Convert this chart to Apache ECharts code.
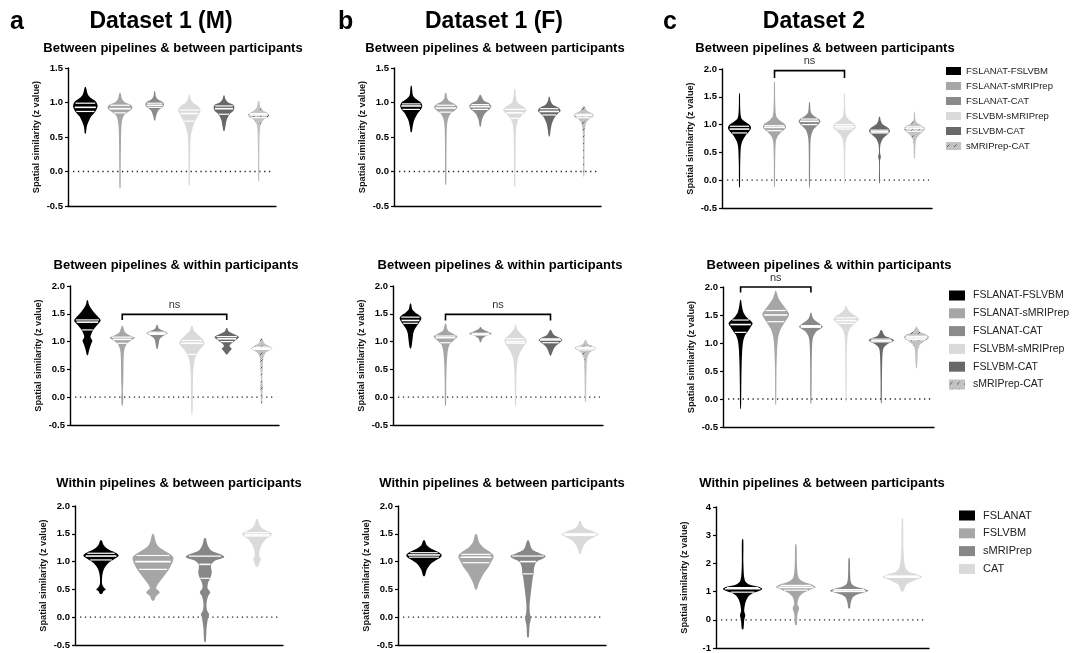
<!DOCTYPE html>
<html>
<head>
<meta charset="utf-8">
<script src="https://cdn.jsdelivr.net/npm/echarts@6/dist/echarts.min.js"></script>
<style>html,body{margin:0;padding:0;background:#fff}#chart{width:1080px;height:653px}</style>
</head>
<body>
<div id="chart"></div>
<script>
// ---------- DATA ----------
const pairNames = ['FSLANAT-FSLVBM','FSLANAT-sMRIPrep','FSLANAT-CAT','FSLVBM-sMRIPrep','FSLVBM-CAT','sMRIPrep-CAT'];
const pipeNames = ['FSLANAT','FSLVBM','sMRIPrep','CAT'];
const datasetTitles = ['Dataset 1 (M)','Dataset 1 (F)','Dataset 2'];
const panelLetters = ['a','b','c'];
const rowTitles = ['Between pipelines & between participants','Between pipelines & within participants','Within pipelines & between participants'];
const yAxisName = 'Spatial similarity (z value)';
// y axis ranges [min, max, interval]
const yRange1 = [-0.5, 1.5, 0.5];
const yRange2 = [-0.5, 2.0, 0.5];
const yRange3 = [-1, 4, 1];

// violin profiles: [value, half-width (fraction of category band)]
const shapesA1 = [
 [[0.55,0.015],[0.65,0.04],[0.72,0.09],[0.8,0.17],[0.87,0.29],[0.95,0.354],[1.02,0.29],[1.07,0.15],[1.12,0.07],[1.22,0.015]],
 [[-0.24,0.015],[0.0,0.02],[0.5,0.03],[0.7,0.05],[0.8,0.1],[0.85,0.2],[0.9,0.33],[0.93,0.36],[0.97,0.3],[1.0,0.15],[1.05,0.06],[1.14,0.015]],
 [[0.74,0.015],[0.8,0.04],[0.88,0.1],[0.93,0.22],[0.97,0.27],[1.01,0.22],[1.05,0.08],[1.1,0.03],[1.16,0.015]],
 [[-0.2,0.015],[0.2,0.025],[0.5,0.04],[0.6,0.08],[0.7,0.14],[0.78,0.22],[0.85,0.3],[0.9,0.32],[0.95,0.25],[1.0,0.1],[1.05,0.04],[1.11,0.015]],
 [[0.59,0.015],[0.65,0.04],[0.75,0.08],[0.83,0.16],[0.88,0.27],[0.93,0.3],[0.97,0.26],[1.0,0.12],[1.05,0.04],[1.1,0.015]],
 [[-0.14,0.015],[0.3,0.02],[0.6,0.035],[0.7,0.07],[0.76,0.17],[0.8,0.3],[0.84,0.28],[0.88,0.14],[0.93,0.05],[1.02,0.015]]
];
const quartA1 = [[0.87,0.93,0.99],[0.85,0.91,0.96],[0.93,0.96,0.99],[0.73,0.84,0.89],[0.83,0.91,0.95],[0.78,0.82,0.84]];

const shapesB1 = [
 [[0.57,0.015],[0.65,0.04],[0.75,0.09],[0.85,0.2],[0.9,0.28],[0.95,0.32],[1.0,0.28],[1.05,0.14],[1.1,0.05],[1.24,0.015]],
 [[-0.19,0.015],[0.2,0.02],[0.6,0.03],[0.75,0.06],[0.84,0.15],[0.9,0.3],[0.93,0.34],[0.97,0.28],[1.02,0.1],[1.07,0.04],[1.14,0.015]],
 [[0.65,0.015],[0.75,0.05],[0.83,0.12],[0.88,0.22],[0.94,0.32],[0.99,0.26],[1.03,0.1],[1.11,0.015]],
 [[-0.22,0.015],[0.3,0.025],[0.6,0.04],[0.72,0.08],[0.8,0.18],[0.86,0.3],[0.89,0.34],[0.94,0.26],[1.0,0.08],[1.1,0.03],[1.19,0.015]],
 [[0.51,0.015],[0.6,0.04],[0.7,0.08],[0.8,0.18],[0.85,0.28],[0.88,0.33],[0.92,0.28],[0.97,0.1],[1.02,0.04],[1.08,0.015]],
 [[-0.07,0.015],[0.3,0.02],[0.6,0.035],[0.7,0.07],[0.76,0.16],[0.8,0.29],[0.84,0.25],[0.88,0.1],[0.95,0.015]]
];
const quartB1 = [[0.9,0.95,0.98],[0.86,0.92,0.96],[0.9,0.94,0.97],[0.77,0.85,0.9],[0.82,0.87,0.91],[0.78,0.81,0.83]];

const shapesC1 = [
 [[-0.13,0.012],[0.3,0.02],[0.6,0.04],[0.7,0.08],[0.8,0.17],[0.88,0.28],[0.94,0.33],[1.0,0.28],[1.06,0.14],[1.12,0.05],[1.3,0.02],[1.56,0.012]],
 [[-0.12,0.012],[0.4,0.02],[0.7,0.04],[0.8,0.1],[0.88,0.22],[0.95,0.33],[1.02,0.28],[1.08,0.14],[1.15,0.05],[1.4,0.02],[1.77,0.012]],
 [[-0.13,0.012],[0.4,0.02],[0.75,0.035],[0.9,0.1],[0.98,0.22],[1.05,0.31],[1.1,0.27],[1.16,0.12],[1.22,0.04],[1.4,0.012]],
 [[-0.06,0.012],[0.4,0.02],[0.7,0.04],[0.8,0.1],[0.88,0.22],[0.95,0.32],[1.02,0.28],[1.08,0.14],[1.15,0.05],[1.3,0.02],[1.56,0.012]],
 [[-0.05,0.012],[0.35,0.015],[0.42,0.04],[0.5,0.015],[0.65,0.03],[0.75,0.1],[0.82,0.22],[0.88,0.3],[0.94,0.25],[1.0,0.1],[1.06,0.04],[1.14,0.012]],
 [[0.39,0.012],[0.5,0.02],[0.65,0.03],[0.75,0.06],[0.83,0.16],[0.9,0.28],[0.93,0.3],[0.97,0.25],[1.02,0.1],[1.08,0.03],[1.23,0.012]]
];
const quartC1 = [[0.85,0.92,0.97],[0.89,0.95,0.98],[1.0,1.06,1.1],[0.92,0.96,1.0],[0.85,0.87,0.9],[0.88,0.93,0.96]];

const shapesA2 = [
 [[0.76,0.015],[0.85,0.05],[0.95,0.1],[1.02,0.14],[1.08,0.09],[1.15,0.12],[1.22,0.18],[1.3,0.28],[1.38,0.38],[1.45,0.3],[1.52,0.2],[1.6,0.1],[1.67,0.04],[1.74,0.015]],
 [[-0.15,0.015],[0.0,0.03],[0.1,0.02],[0.3,0.03],[0.5,0.035],[0.7,0.04],[0.85,0.06],[0.95,0.12],[1.02,0.25],[1.07,0.36],[1.12,0.2],[1.17,0.08],[1.28,0.015]],
 [[0.87,0.015],[0.95,0.04],[1.05,0.08],[1.1,0.18],[1.15,0.3],[1.19,0.2],[1.23,0.06],[1.3,0.015]],
 [[-0.31,0.015],[0.0,0.025],[0.4,0.035],[0.6,0.06],[0.75,0.12],[0.85,0.22],[0.92,0.32],[0.98,0.36],[1.05,0.3],[1.12,0.18],[1.2,0.06],[1.28,0.015]],
 [[0.77,0.015],[0.82,0.08],[0.87,0.14],[0.92,0.08],[0.97,0.14],[1.03,0.26],[1.08,0.35],[1.13,0.22],[1.18,0.06],[1.24,0.015]],
 [[-0.12,0.015],[0.1,0.025],[0.2,0.04],[0.3,0.02],[0.5,0.03],[0.7,0.05],[0.8,0.12],[0.85,0.25],[0.88,0.31],[0.92,0.22],[0.97,0.08],[1.06,0.015]]
];
const quartA2 = [[1.21,1.35,1.39],[0.97,1.04,1.08],[1.13,1.15,1.17],[0.77,0.97,1.02],[1.0,1.05,1.09],[0.86,0.88,0.9]];

const shapesB2 = [
 [[0.88,0.015],[0.95,0.04],[1.05,0.06],[1.15,0.08],[1.22,0.12],[1.3,0.2],[1.36,0.27],[1.42,0.31],[1.47,0.26],[1.52,0.14],[1.58,0.05],[1.68,0.015]],
 [[-0.15,0.015],[0.2,0.02],[0.5,0.03],[0.7,0.045],[0.85,0.07],[0.95,0.12],[1.03,0.25],[1.09,0.34],[1.14,0.22],[1.2,0.07],[1.32,0.015]],
 [[0.99,0.015],[1.05,0.05],[1.1,0.16],[1.14,0.32],[1.18,0.2],[1.22,0.06],[1.26,0.015]],
 [[-0.15,0.015],[0.2,0.02],[0.5,0.035],[0.7,0.07],[0.8,0.13],[0.9,0.22],[0.97,0.3],[1.02,0.32],[1.08,0.26],[1.15,0.14],[1.22,0.05],[1.3,0.015]],
 [[0.75,0.015],[0.82,0.06],[0.88,0.1],[0.94,0.18],[0.99,0.28],[1.03,0.34],[1.07,0.26],[1.12,0.1],[1.21,0.015]],
 [[-0.08,0.015],[0.2,0.02],[0.5,0.03],[0.7,0.05],[0.8,0.12],[0.85,0.24],[0.88,0.31],[0.92,0.2],[0.96,0.07],[1.03,0.015]]
];
const quartB2 = [[1.33,1.38,1.44],[0.98,1.07,1.1],[1.12,1.13,1.15],[0.97,1.0,1.05],[0.98,1.03,1.05],[0.85,0.88,0.9]];

const shapesC2 = [
 [[-0.17,0.012],[0.2,0.02],[0.6,0.03],[0.9,0.05],[1.05,0.08],[1.15,0.14],[1.22,0.22],[1.3,0.3],[1.35,0.34],[1.4,0.28],[1.47,0.16],[1.55,0.08],[1.65,0.04],[1.77,0.012]],
 [[-0.1,0.012],[0.5,0.02],[0.9,0.04],[1.1,0.07],[1.25,0.14],[1.35,0.24],[1.45,0.34],[1.52,0.38],[1.6,0.3],[1.7,0.18],[1.8,0.08],[1.93,0.012]],
 [[-0.08,0.012],[0.5,0.02],[0.9,0.03],[1.1,0.06],[1.2,0.15],[1.25,0.26],[1.29,0.34],[1.34,0.26],[1.4,0.12],[1.46,0.05],[1.54,0.012]],
 [[-0.05,0.012],[0.5,0.02],[0.9,0.025],[1.1,0.04],[1.25,0.1],[1.35,0.25],[1.42,0.36],[1.48,0.28],[1.54,0.14],[1.6,0.05],[1.66,0.012]],
 [[-0.07,0.012],[0.4,0.02],[0.7,0.03],[0.9,0.06],[0.98,0.18],[1.02,0.3],[1.05,0.36],[1.09,0.26],[1.13,0.1],[1.23,0.012]],
 [[0.55,0.012],[0.7,0.03],[0.9,0.05],[0.98,0.12],[1.05,0.26],[1.1,0.36],[1.15,0.28],[1.2,0.1],[1.29,0.012]]
];
const quartC2 = [[1.19,1.33,1.41],[1.38,1.5,1.58],[1.28,1.3,1.31],[1.35,1.4,1.45],[1.02,1.04,1.07],[1.06,1.09,1.12]];

const shapesA3 = [
 [[0.42,0.02],[0.47,0.05],[0.5,0.09],[0.54,0.05],[0.6,0.02],[0.75,0.025],[0.85,0.05],[0.93,0.1],[1.0,0.18],[1.06,0.28],[1.11,0.34],[1.16,0.28],[1.22,0.14],[1.3,0.05],[1.38,0.015]],
 [[0.3,0.02],[0.38,0.06],[0.45,0.13],[0.52,0.06],[0.6,0.1],[0.7,0.18],[0.8,0.26],[0.9,0.33],[1.0,0.38],[1.08,0.39],[1.15,0.3],[1.22,0.18],[1.3,0.08],[1.4,0.04],[1.49,0.015]],
 [[-0.44,0.015],[-0.2,0.03],[0.0,0.06],[0.05,0.08],[0.12,0.04],[0.25,0.03],[0.38,0.06],[0.45,0.1],[0.52,0.05],[0.62,0.06],[0.7,0.1],[0.8,0.13],[0.88,0.12],[0.95,0.12],[1.02,0.2],[1.08,0.37],[1.13,0.3],[1.2,0.12],[1.3,0.05],[1.42,0.015]],
 [[0.91,0.02],[0.98,0.05],[1.05,0.07],[1.12,0.04],[1.2,0.05],[1.3,0.09],[1.4,0.17],[1.46,0.26],[1.5,0.29],[1.54,0.22],[1.6,0.1],[1.68,0.04],[1.76,0.015]]
];
const quartA3 = [[1.03,1.1,1.15],[0.86,1.0,1.11],[0.7,0.95,1.1],[1.46,1.48,1.52]];

const shapesB3 = [
 [[0.74,0.015],[0.85,0.05],[0.95,0.12],[1.02,0.22],[1.08,0.32],[1.12,0.34],[1.17,0.28],[1.23,0.14],[1.3,0.05],[1.38,0.015]],
 [[0.5,0.015],[0.6,0.05],[0.7,0.1],[0.8,0.16],[0.9,0.24],[1.0,0.3],[1.1,0.34],[1.18,0.26],[1.26,0.14],[1.35,0.06],[1.49,0.015]],
 [[-0.36,0.015],[-0.15,0.03],[0.0,0.06],[0.05,0.04],[0.2,0.03],[0.4,0.05],[0.55,0.07],[0.7,0.09],[0.8,0.11],[0.9,0.12],[1.0,0.17],[1.05,0.28],[1.1,0.34],[1.15,0.22],[1.22,0.08],[1.38,0.015]],
 [[1.14,0.015],[1.22,0.04],[1.3,0.08],[1.38,0.15],[1.44,0.27],[1.49,0.35],[1.54,0.26],[1.6,0.1],[1.66,0.04],[1.73,0.015]]
];
const quartB3 = [[1.08,1.12,1.16],[0.98,1.08,1.13],[0.78,1.0,1.1],[1.47,1.49,1.5]];

const shapesC3 = [
 [[-0.33,0.015],[0.0,0.03],[0.15,0.05],[0.3,0.03],[0.5,0.04],[0.7,0.07],[0.85,0.12],[0.95,0.2],[1.05,0.34],[1.1,0.37],[1.17,0.3],[1.25,0.12],[1.4,0.04],[2.0,0.015],[2.85,0.012]],
 [[-0.18,0.015],[0.2,0.03],[0.42,0.06],[0.55,0.03],[0.8,0.06],[0.95,0.14],[1.05,0.25],[1.15,0.37],[1.25,0.3],[1.35,0.14],[1.5,0.05],[2.0,0.02],[2.67,0.012]],
 [[0.41,0.015],[0.6,0.03],[0.8,0.07],[0.9,0.15],[0.97,0.28],[1.03,0.36],[1.1,0.28],[1.18,0.12],[1.3,0.04],[1.6,0.02],[2.18,0.012]],
 [[1.0,0.015],[1.1,0.04],[1.25,0.08],[1.38,0.2],[1.45,0.3],[1.52,0.37],[1.6,0.3],[1.7,0.12],[1.9,0.05],[2.5,0.02],[3.59,0.012]]
];
const quartC3 = [[0.98,1.1,1.14],[1.05,1.15,1.22],[1.0,1.02,1.07],[1.5,1.53,1.55]];

// significance brackets: [panel, fromCat, toCat, top value, leg bottom value]
const nsBrackets = [[2,1,3,1.97,1.84],[3,1,4,1.49,1.39],[4,1,4,1.49,1.38],[5,0,2,2.0,1.9]];

// ---------- STYLE / LAYOUT ----------
const FONT = '"Liberation Sans", Arial, sans-serif';
function makeHatch(){
  const c = document.createElement('canvas'); c.width = 7; c.height = 7;
  const g = c.getContext('2d');
  g.fillStyle = '#c2c2c2'; g.fillRect(0,0,7,7);
  g.strokeStyle = '#5a5a5a'; g.lineWidth = 1;
  g.beginPath(); g.moveTo(1,5); g.lineTo(3.5,2.5); g.stroke();
  return {image: c, repeat: 'repeat'};
}
const HATCH = makeHatch();
const pairColors = ['#000000','#a6a6a6','#8a8a8a','#dadada','#686868',HATCH];
const pipeColors = ['#000000','#a6a6a6','#878787','#dadada'];

const panels = [
 {grid:{left:68,top:68,width:208,height:138}, y:yRange1, shapes:shapesA1, q:quartA1, names:pairNames, colors:pairColors},
 {grid:{left:394,top:68,width:207,height:138}, y:yRange1, shapes:shapesB1, q:quartB1, names:pairNames, colors:pairColors},
 {grid:{left:722,top:69,width:210,height:139}, y:yRange2, shapes:shapesC1, q:quartC1, names:pairNames, colors:pairColors},
 {grid:{left:70,top:286,width:209,height:139}, y:yRange2, shapes:shapesA2, q:quartA2, names:pairNames, colors:pairColors},
 {grid:{left:393,top:286,width:210,height:139}, y:yRange2, shapes:shapesB2, q:quartB2, names:pairNames, colors:pairColors},
 {grid:{left:723,top:287,width:211,height:140}, y:yRange2, shapes:shapesC2, q:quartC2, names:pairNames, colors:pairColors},
 {grid:{left:75,top:506,width:208,height:139}, y:yRange2, shapes:shapesA3, q:quartA3, names:pipeNames, colors:pipeColors},
 {grid:{left:398,top:506,width:208,height:139}, y:yRange2, shapes:shapesB3, q:quartB3, names:pipeNames, colors:pipeColors},
 {grid:{left:716,top:507,width:213,height:141}, y:yRange3, shapes:shapesC3, q:quartC3, names:pipeNames, colors:pipeColors}
];

function interpW(shape, v){
  for (let i=0;i<shape.length-1;i++){
    const a=shape[i], b=shape[i+1];
    if (v>=a[0] && v<=b[0]) return a[1]+(b[1]-a[1])*(v-a[0])/(b[0]-a[0]);
  }
  return 0;
}

const grids=[], xAxes=[], yAxes=[], series=[];
panels.forEach((p, pi) => {
  grids.push(Object.assign({containLabel:false, outerBoundsMode:'none'}, p.grid));
  xAxes.push({type:'category', gridIndex:pi, data:p.names, boundaryGap:true,
    axisLine:{onZero:false, lineStyle:{color:'#000',width:1.4}}, axisTick:{alignWithLabel:true,length:4,lineStyle:{color:'#000',width:1.2}},
    axisLabel:{show:false}, splitLine:{show:false}});
  const isInt = p.y[2] >= 1;
  yAxes.push({type:'value', gridIndex:pi, min:p.y[0], max:p.y[1], interval:p.y[2],
    name:yAxisName, nameLocation:'middle', nameGap:27,
    nameTextStyle:{fontFamily:FONT,fontWeight:'bold',fontSize:9.2,color:'#111'},
    axisLine:{show:true,onZero:false,lineStyle:{color:'#000',width:1.4}}, axisTick:{show:true,length:3,lineStyle:{color:'#000',width:1.2}},
    axisLabel:{margin:5,fontFamily:FONT,fontWeight:'bold',fontSize:9.5,color:'#000',formatter:v=>isInt?String(v):v.toFixed(1)},
    splitLine:{show:false}});
  // dotted zero line
  series.push({type:'custom', name:'zero'+pi, xAxisIndex:pi, yAxisIndex:pi, data:[[0,0]], silent:true, z:1,
    renderItem:(params, api)=>{
      const cs = params.coordSys; const y = api.coord([0,0])[1];
      return {type:'line', shape:{x1:cs.x+5,y1:y,x2:cs.x+cs.width-3,y2:y}, style:{stroke:'#222',lineWidth:1.3,lineDash:[1.3,3.6],lineCap:'butt'}};
    }});
  p.shapes.forEach((shape, ci) => {
    const color = p.colors[ci]; const quart = p.q[ci];
    series.push({type:'custom', name:p.names[ci], xAxisIndex:pi, yAxisIndex:pi, data:[[ci, quart[1]]], clip:false, z:2,
      itemStyle:{color:color},
      renderItem:(params, api)=>{
        const cx = api.coord([ci,0])[0];
        const band = api.size([1,0])[0];
        const right = shape.map(s=>[cx+s[1]*band, api.coord([ci,s[0]])[1]]);
        const left = shape.slice().reverse().map(s=>[cx-s[1]*band, api.coord([ci,s[0]])[1]]);
        const children = [{type:'polygon', shape:{points:right.concat(left), smooth:0.3}, style:{fill:color}}];
        quart.forEach((qv,k)=>{
          const hw = interpW(shape,qv)*band*0.9; const y = api.coord([ci,qv])[1];
          children.push({type:'line', shape:{x1:cx-hw,y1:y,x2:cx+hw,y2:y}, style:{stroke:'#fff',lineWidth:k===1?1.6:1.2}});
        });
        return {type:'group', children};
      }});
  });
});
nsBrackets.forEach((b, bi) => {
  const pi = b[0];
  series.push({type:'custom', name:'ns'+bi, xAxisIndex:pi, yAxisIndex:pi, data:[[b[1],b[3]]], clip:false, silent:true, z:3,
    renderItem:(params, api)=>{
      const p1 = api.coord([b[1], b[3]]), p2 = api.coord([b[2], b[3]]);
      const l1 = api.coord([b[1], b[4]]), l2 = api.coord([b[2], b[4]]);
      return {type:'group', children:[
        {type:'polyline', shape:{points:[l1,p1,p2,l2]}, style:{stroke:'#000',lineWidth:1.6,fill:null}},
        {type:'text', x:(p1[0]+p2[0])/2, y:p1[1]-4, style:{text:'ns', fill:'#333', font:'11px '+FONT, textAlign:'center', textVerticalAlign:'bottom', align:'center', verticalAlign:'bottom'}}
      ]};
    }});
});

// text headings
const graphics = [];
const letterX = [10, 338, 663];
const datasetX = [161, 494, 814];
const subX = [[173,495,825],[176,500,829],[179,502,822]];
const subY = [48, 265, 483];
function txt(x, y, s, font, align){
  return {type:'text', x:x, y:y, silent:true, style:{text:s, fill:'#000', font:font, textAlign:align, textVerticalAlign:'middle', align:align, verticalAlign:'middle'}};
}
for (let c=0;c<3;c++){
  graphics.push(txt(letterX[c], 22, panelLetters[c], 'bold 25px '+FONT, 'left'));
  graphics.push(txt(datasetX[c], 22, datasetTitles[c], 'bold 23px '+FONT, 'center'));
  for (let r=0;r<3;r++) graphics.push(txt(subX[r][c], subY[r], rowTitles[r], 'bold 13px '+FONT, 'center'));
}

const legendBase = {orient:'vertical', icon:'rect', selectedMode:false, padding:0};
const option = {
  animation:false,
  backgroundColor:'#fff',
  grid:grids, xAxis:xAxes, yAxis:yAxes, series:series,
  graphic:graphics,
  legend:[
    Object.assign({}, legendBase, {data:pairNames, left:946, top:66, itemWidth:15, itemHeight:8, itemGap:5, textStyle:{fontFamily:FONT,fontSize:9.5,color:'#222'}}),
    Object.assign({}, legendBase, {data:pairNames, left:949, top:290, itemWidth:16, itemHeight:10, itemGap:6.8, textStyle:{fontFamily:FONT,fontSize:10.5,color:'#222',padding:[0,0,0,3]}}),
    Object.assign({}, legendBase, {data:pipeNames, left:959, top:510, itemWidth:16, itemHeight:10, itemGap:6.8, textStyle:{fontFamily:FONT,fontSize:11,color:'#222',padding:[0,0,0,3]}})
  ]
};
const chart = echarts.init(document.getElementById('chart'), null, {renderer:'canvas'});
chart.setOption(option);
</script>
</body>
</html>
